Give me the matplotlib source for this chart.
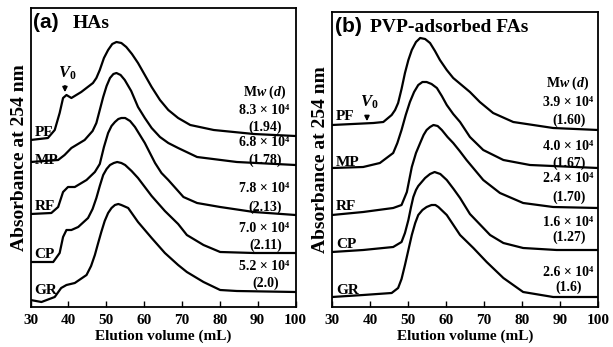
import matplotlib
matplotlib.use("Agg")
import matplotlib.pyplot as plt

plt.rcParams['font.family'] = ['Liberation Serif', 'DejaVu Serif']
plt.rcParams['font.weight'] = 'bold'
plt.rcParams['mathtext.fontset'] = 'custom'
plt.rcParams['mathtext.rm'] = 'Liberation Serif:bold'
plt.rcParams['mathtext.it'] = 'Liberation Serif:italic:bold'
plt.rcParams['mathtext.bf'] = 'Liberation Serif:bold'

# ---- (a) HAs : elution volume (mL) vs stacked absorbance (offset units) ----
pf_a_x = [30, 34.6, 36.4, 37.7, 38.6, 39.5, 40.8, 43.4, 46.5, 47.4, 48.3, 49.4, 50.5, 51.6, 52.7, 54.0, 55.3, 56.8, 58.4, 60.2, 62, 64.2, 66.4, 69, 72.2, 78.4, 89, 100]
pf_a_y = [167, 169, 177, 194, 209, 212, 209, 215, 224, 229, 237, 249, 257, 263, 265, 264, 260, 253, 244, 232, 220, 207, 197, 189, 182, 177, 173, 171]
mp_a_x = [30, 37.3, 39, 40.8, 44.3, 46.4, 47.4, 48.3, 49.2, 50.1, 51, 51.9, 52.7, 53.8, 54.9, 56.6, 58.4, 60.2, 62, 64.2, 66.4, 69, 74, 84.5, 100]
mp_a_y = [145, 147, 152, 159, 167, 176, 184, 197, 210, 221, 229, 233, 234, 232, 227, 216, 200, 189, 179, 170, 164, 159, 150, 145, 142]
rf_a_x = [30, 35.5, 37.3, 38.6, 39.9, 41.7, 44.8, 47, 48.3, 49.4, 50.5, 51.4, 52.3, 53.2, 54, 55, 56.3, 57.6, 58.9, 60.2, 62.9, 64.6, 66.4, 70.4, 74, 80.1, 89, 100]
rf_a_y = [93, 94, 100, 115, 120, 120, 127, 135, 143, 160, 174, 181, 185, 188, 189, 189, 186, 180, 172, 164, 144, 134, 127, 110, 104, 100, 95, 92]
cp_a_x = [30, 36, 37.7, 38.6, 39.5, 40.8, 42.6, 45.2, 46.4, 47.4, 48.3, 49.2, 50.1, 51, 52, 52.9, 54, 55, 56.7, 58.4, 60.2, 62, 65.5, 69, 71.3, 75.7, 80.1, 89, 100]
cp_a_y = [45, 45, 54, 70, 77, 77, 80, 89, 98, 109, 121, 132, 138, 142, 144, 145, 144, 142, 136, 129, 120, 111, 96, 83, 72, 62, 55, 54, 54]
gr_a_x = [30, 32.9, 36.4, 38.1, 39.5, 41.7, 44.8, 46, 47, 47.8, 48.7, 49.6, 50.5, 51.4, 52.3, 53.2, 54, 55.8, 58.4, 60.2, 62, 65.5, 69, 71.3, 75.7, 80.1, 84.5, 100]
gr_a_y = [7, 5, 10, 19, 22, 24, 32, 41, 52, 63, 75, 86, 94, 99, 102, 103, 102, 99, 85, 77, 69, 54, 42, 35, 25, 17, 16, 15]

# ---- (b) PVP-adsorbed FAs ----
pf_b_x = [30, 40.9, 43.5, 45.7, 46.6, 47.4, 48.3, 49.2, 50.1, 51, 52.1, 53.2, 54.5, 55.8, 57.1, 58.4, 60.2, 61.9, 64.1, 66.3, 68.9, 72.4, 77.7, 88.2, 100]
pf_b_y = [182, 184, 185, 192, 197, 204, 218, 234, 247, 257, 265, 269, 268, 264, 256, 247, 237, 229, 222, 215, 205, 194, 185, 179, 177]
mp_b_x = [30, 38.2, 42.6, 46.1, 47.2, 48.3, 49.4, 50.5, 51.6, 52.7, 53.8, 54.9, 56.2, 57.6, 58.9, 60.2, 61.9, 63.7, 66.3, 69.8, 75.1, 82.1, 100]
mp_b_y = [139, 140, 144, 154, 164, 177, 192, 205, 215, 222, 225, 225, 223, 219, 211, 202, 193, 185, 170, 157, 147, 142, 139]
rf_b_x = [30, 38.2, 46.1, 48.3, 49.7, 51, 52.1, 53.2, 54.1, 54.9, 55.8, 56.7, 57.8, 58.9, 60.4, 61.9, 63.6, 65.4, 69.8, 74.2, 80.3, 88.2, 100]
rf_b_y = [92, 95, 99, 102, 115, 140, 154, 164, 172, 177, 180, 182, 181, 177, 170, 164, 156, 147, 127, 114, 104, 100, 99]
cp_b_x = [30, 38.2, 46.1, 48.3, 49.2, 50.1, 50.8, 51.4, 52.1, 52.7, 54.5, 55.8, 57, 58.5, 60.2, 62, 63.7, 66.3, 71.6, 75.1, 80.3, 89.1, 100]
cp_b_y = [55, 57, 60, 65, 74, 87, 100, 110, 117, 121, 129, 133, 135, 133, 127, 118, 109, 93, 72, 64, 59, 57, 57]
gr_b_x = [30, 38.2, 45.7, 47.4, 48.3, 49.2, 50.1, 51, 51.9, 52.7, 53.8, 54.9, 56.2, 57.2, 58, 60.2, 63.7, 67.2, 70.7, 75.1, 80.3, 88.2, 100]
gr_b_y = [10, 12, 14, 19, 28, 42, 57, 72, 84, 92, 97, 100, 102, 102, 100, 92, 72, 59, 45, 29, 15, 10, 10]

samples = ['PF', 'MP', 'RF', 'CP', 'GR']
mw_a = ['8.3 × 10⁴', '6.8 × 10⁴', '7.8 × 10⁴', '7.0 × 10⁴', '5.2 × 10⁴']
d_a = ['(1.94)', '(1.78)', '(2.13)', '(2.11)', '(2.0)']
mw_b = ['3.9 × 10⁴', '4.0 × 10⁴', '2.4 × 10⁴', '1.6 × 10⁴', '2.6 × 10⁴']
d_b = ['(1.60)', '(1.67)', '(1.70)', '(1.27)', '(1.6)']
xticks = [30, 40, 50, 60, 70, 80, 90, 100]

curves_a = [(pf_a_x, pf_a_y), (mp_a_x, mp_a_y), (rf_a_x, rf_a_y), (cp_a_x, cp_a_y), (gr_a_x, gr_a_y)]
curves_b = [(pf_b_x, pf_b_y), (mp_b_x, mp_b_y), (rf_b_x, rf_b_y), (cp_b_x, cp_b_y), (gr_b_x, gr_b_y)]

# label heights (same offset units as curves)
lab_a_y = [175, 146, 100, 53, 16]
lab_b_y = [191, 144, 100, 62, 17]
mw_a_y = [197, 165, 119, 79, 40]
d_a_y = [180, 147, 100, 62, 24]
mw_b_y = [204, 160, 129, 84, 35]
d_b_y = [187, 144, 110, 70, 20]

W, H = 613, 347
fig = plt.figure(figsize=(W / 100, H / 100), dpi=100)
ax_a = fig.add_axes([30.5 / W, 40 / H, 265 / W, 299 / H])
ax_b = fig.add_axes([332 / W, 40 / H, 266 / W, 295 / H])


def setup(ax, top):
    ax.set_xlim(30, 100)
    ax.set_ylim(0, top)
    ax.set_xticks(xticks)
    ax.set_yticks([])
    ax.tick_params(axis='x', direction='in', length=4, width=1, pad=5, labelsize=11)
    for lab in ax.get_xticklabels():
        lab.set_fontweight('bold')
    for s in ax.spines.values():
        s.set_linewidth(1.3)
    ax.set_xlabel('Elution volume (mL)', fontsize=11, fontweight='bold', labelpad=2)
    ax.set_ylabel('Absorbance at 254 nm', fontsize=14, fontweight='bold', labelpad=2)


def draw(ax, curves, labs_y, mw, mw_y, dd, d_y, xc):
    for (x, y) in curves:
        ax.plot(x, y, color='black', lw=1.6, solid_joinstyle='round', solid_capstyle='round')
    for name, ly in zip(samples, labs_y):
        ax.text(31.0, ly, name, fontsize=11, fontweight='bold', ha='left', va='center')
    for t, ty in zip(mw, mw_y):
        ax.text(xc, ty, t, fontsize=10, fontweight='bold', ha='center', va='center')
    for t, ty in zip(dd, d_y):
        ax.text(xc + 0.3, ty, t, fontsize=10, fontweight='bold', ha='center', va='center')


setup(ax_a, 299)
setup(ax_b, 295)
draw(ax_a, curves_a, lab_a_y, mw_a, mw_a_y, d_a, d_a_y, 91.8)
draw(ax_b, curves_b, lab_b_y, mw_b, mw_b_y, d_b, d_b_y, 92.1)

ax_a.text(91.8, 215, r'M$\mathit{w}$ ($\mathit{d}$)', fontsize=10, ha='center', va='center')
ax_b.text(92.1, 224, r'M$\mathit{w}$ ($\mathit{d}$)', fontsize=10, ha='center', va='center')

# V0 markers
ax_a.annotate('', xy=(39.1, 212), xytext=(39.1, 224),
              arrowprops=dict(arrowstyle='-|>', color='black', lw=1.2, mutation_scale=7))
ax_a.text(39.6, 234, r'$V_0$', fontsize=12, ha='center', va='center')
ax_b.annotate('', xy=(39.2, 183), xytext=(39.2, 194),
              arrowprops=dict(arrowstyle='-|>', color='black', lw=1.2, mutation_scale=7))
ax_b.text(39.8, 205, r'$V_0$', fontsize=12, ha='center', va='center')

# panel titles
ax_a.text(30.6, 284, '(a)', family='Liberation Sans', fontsize=15, fontweight='bold', ha='left', va='center')
ax_a.text(41.2, 284, 'HAs', fontsize=14, fontweight='bold', ha='left', va='center')
ax_b.text(30.7, 280, '(b)', family='Liberation Sans', fontsize=15, fontweight='bold', ha='left', va='center')
ax_b.text(40.0, 280, 'PVP-adsorbed FAs', fontsize=14, fontweight='bold', ha='left', va='center')

fig.savefig('out.png', dpi=100)
